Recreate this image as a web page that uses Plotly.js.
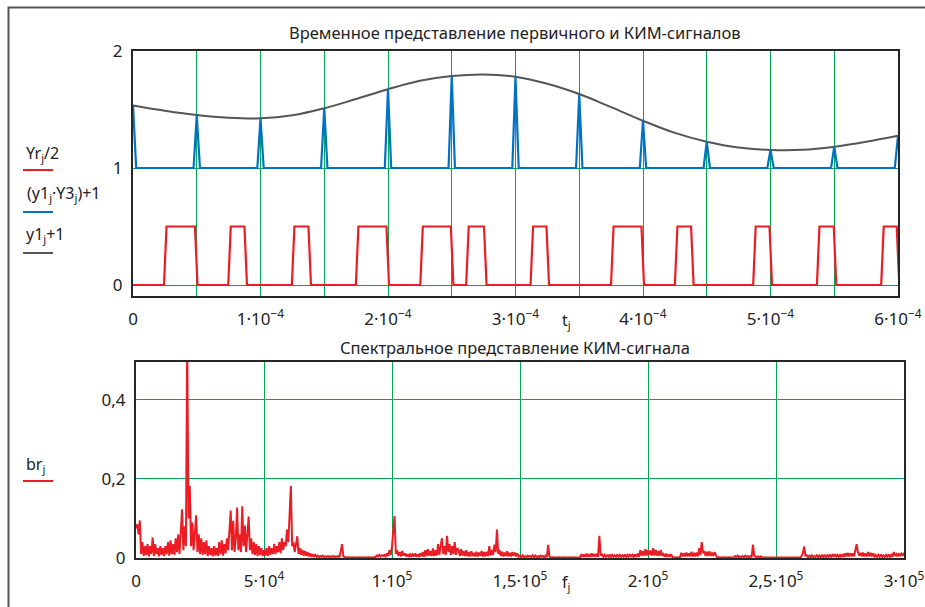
<!DOCTYPE html>
<html>
<head>
<meta charset="utf-8">
<script src="https://cdn.plot.ly/plotly-3.0.1.min.js"></script>
<style>
html,body{margin:0;padding:0;background:#fff;}
#chart{width:925px;height:607px;}
</style>
</head>
<body>
<div id="chart"></div>
<script>
// ---------- DATA ----------
// Top chart: time axis in microseconds
const grayT_us = [0,25,50,75,100,125,150,175,200,225,250,275,300,325,350,375,400,425,450,475,500,525,550,575,600];
const grayV    = [1.535,1.49,1.453,1.43,1.425,1.45,1.51,1.59,1.673,1.745,1.786,1.80,1.78,1.72,1.632,1.52,1.404,1.30,1.225,1.175,1.154,1.155,1.182,1.225,1.276];

const sampleT_us = [0,50,100,150,200,250,300,350,400,450,500,550,600];
const sampleV    = [1.535,1.453,1.425,1.51,1.673,1.786,1.78,1.632,1.404,1.225,1.154,1.182,1.276];

const pulseRise_us = [25.3,75.7,125.6,175.8,226.3,262.3,312.8,375.9,426.0,487.4,537.4,587.8];
const pulseFall_us = [49.6,88.4,138.6,199.8,250.3,276.3,325.3,399.8,438.7,500.2,550.6,600.0];
const pulseHigh = 0.5;
const baseBlue = 1;

const topXTicks = [0,50e-6,100e-6,150e-6,200e-6,250e-6,300e-6,350e-6,400e-6,450e-6,500e-6,550e-6,600e-6];
const topXLabels = ['0','','1·10<sup>−4</sup>','','2·10<sup>−4</sup>','','3·10<sup>−4</sup>','','4·10<sup>−4</sup>','','5·10<sup>−4</sup>','','6·10<sup>−4</sup>'];
const topYTicks = [0,1,2];
const topYLabels = ['0','1','2'];

// Bottom chart: spectrum, step 0.5 kHz from 0 to 300 kHz (one row = 10 kHz)
const specStepHz = 500;
const br = [
0.075,0.085,0.060,0.095,0.010,0.040,0.005,0.030,0.008,0.035,0.004,0.030,0.010,0.052,0.005,0.035,0.010,0.025,0.004,0.030,
0.008,0.025,0.005,0.030,0.010,0.040,0.006,0.045,0.010,0.035,0.008,0.050,0.015,0.060,0.010,0.055,0.123,0.020,0.080,0.030,
0.550,0.100,0.182,0.030,0.090,0.020,0.060,0.108,0.015,0.060,0.010,0.050,0.008,0.040,0.010,0.045,0.005,0.030,0.008,0.025,
0.004,0.030,0.006,0.025,0.005,0.040,0.010,0.045,0.006,0.035,0.012,0.050,0.020,0.060,0.120,0.020,0.094,0.015,0.050,0.128,
0.020,0.060,0.015,0.131,0.030,0.082,0.015,0.060,0.105,0.020,0.050,0.010,0.040,0.008,0.035,0.005,0.030,0.008,0.025,0.005,
0.020,0.006,0.025,0.005,0.030,0.008,0.025,0.010,0.035,0.010,0.030,0.015,0.040,0.012,0.050,0.020,0.040,0.030,0.072,0.040,
0.100,0.182,0.030,0.040,0.015,0.035,0.055,0.010,0.025,0.008,0.020,0.006,0.018,0.005,0.015,0.004,0.012,0.003,0.010,0.003,
0.008,0.003,0.006,0.002,0.005,0.003,0.006,0.002,0.004,0.003,0.005,0.002,0.004,0.003,0.005,0.002,0.004,0.003,0.005,0.002,
0.015,0.035,0.004,0.002,0.001,0.002,0.001,0.002,0.001,0.002,0.001,0.002,0.001,0.002,0.001,0.002,0.001,0.002,0.001,0.002,
0.001,0.002,0.001,0.002,0.001,0.002,0.001,0.002,0.006,0.004,0.008,0.004,0.007,0.005,0.008,0.004,0.012,0.005,0.020,0.008,
0.030,0.060,0.106,0.010,0.020,0.005,0.015,0.004,0.018,0.006,0.012,0.004,0.010,0.003,0.011,0.003,0.009,0.004,0.012,0.003,
0.010,0.003,0.012,0.004,0.015,0.003,0.020,0.005,0.022,0.006,0.018,0.005,0.024,0.005,0.020,0.006,0.035,0.008,0.030,0.050,
0.010,0.030,0.008,0.056,0.015,0.035,0.008,0.030,0.010,0.040,0.008,0.025,0.020,0.005,0.022,0.006,0.018,0.005,0.020,0.004,
0.015,0.004,0.017,0.005,0.013,0.004,0.016,0.004,0.014,0.005,0.018,0.004,0.015,0.004,0.016,0.005,0.030,0.006,0.020,0.008,
0.034,0.015,0.072,0.010,0.020,0.005,0.016,0.004,0.014,0.005,0.017,0.004,0.013,0.004,0.015,0.005,0.014,0.004,0.012,0.003,
0.006,0.002,0.007,0.002,0.005,0.002,0.006,0.003,0.005,0.002,0.007,0.002,0.006,0.002,0.005,0.002,0.006,0.003,0.005,0.002,
0.006,0.002,0.033,0.004,0.001,0.002,0.001,0.002,0.001,0.002,0.001,0.002,0.001,0.002,0.001,0.002,0.001,0.002,0.001,0.002,
0.001,0.002,0.001,0.002,0.001,0.002,0.001,0.002,0.010,0.003,0.009,0.003,0.011,0.003,0.008,0.003,0.012,0.004,0.010,0.003,
0.011,0.003,0.056,0.008,0.009,0.003,0.008,0.003,0.007,0.003,0.009,0.002,0.008,0.003,0.007,0.003,0.009,0.002,0.008,0.003,
0.007,0.003,0.009,0.003,0.008,0.002,0.010,0.003,0.008,0.003,0.009,0.003,0.011,0.003,0.020,0.006,0.018,0.006,0.022,0.006,
0.020,0.007,0.019,0.006,0.025,0.006,0.021,0.006,0.018,0.005,0.020,0.006,0.010,0.003,0.011,0.003,0.009,0.003,0.010,0.003,
0.001,0.002,0.001,0.002,0.001,0.002,0.013,0.004,0.012,0.004,0.014,0.004,0.012,0.004,0.016,0.004,0.013,0.004,0.014,0.004,
0.025,0.008,0.040,0.012,0.018,0.005,0.016,0.005,0.017,0.005,0.014,0.005,0.015,0.005,0.001,0.002,0.001,0.002,0.001,0.002,
0.001,0.002,0.001,0.002,0.001,0.002,0.001,0.002,0.005,0.002,0.006,0.002,0.004,0.002,0.005,0.002,0.006,0.002,0.005,0.002,
0.005,0.002,0.034,0.006,0.004,0.002,0.004,0.002,0.004,0.002,0.001,0.0015,0.001,0.0015,0.001,0.0015,0.001,0.0015,0.001,0.0015,
0.001,0.0015,0.001,0.0015,0.001,0.0015,0.001,0.0015,0.001,0.0015,0.001,0.0015,0.001,0.0015,0.001,0.0015,0.001,0.0015,0.001,0.0015,
0.005,0.012,0.029,0.006,0.007,0.002,0.006,0.002,0.007,0.002,0.005,0.002,0.008,0.002,0.006,0.002,0.007,0.002,0.008,0.002,
0.007,0.002,0.009,0.002,0.008,0.003,0.010,0.002,0.008,0.003,0.009,0.002,0.010,0.003,0.012,0.004,0.013,0.004,0.012,0.004,
0.012,0.004,0.025,0.035,0.015,0.006,0.013,0.004,0.014,0.004,0.012,0.004,0.015,0.004,0.013,0.004,0.012,0.004,0.008,0.003,
0.008,0.003,0.009,0.003,0.007,0.003,0.008,0.003,0.009,0.003,0.008,0.003,0.015,0.005,0.010,0.004,0.012,0.005,0.011,0.006,
0.013
];
const botXTicks = [0,50000,100000,150000,200000,250000,300000];
const botXLabels = ['0','5·10<sup>4</sup>','1·10<sup>5</sup>','1,5·10<sup>5</sup>','2·10<sup>5</sup>','2,5·10<sup>5</sup>','3·10<sup>5</sup>'];
const botYTicks = [0,0.2,0.4];
const botYLabels = ['0','0,2','0,4'];

// ---------- BUILD TRACES ----------
const US = 1e-6;
const edge = 1.0;      // half width of pulse edges, us
const spikeHalf = 2.5; // half width of sample spikes, us

const redX = [0], redY = [0];
for (let i = 0; i < pulseRise_us.length; i++) {
  redX.push((pulseRise_us[i]-edge)*US, (pulseRise_us[i]+edge)*US, (pulseFall_us[i]-edge)*US, (pulseFall_us[i]+edge)*US);
  redY.push(0, pulseHigh, pulseHigh, 0);
}

const blueX = [], blueY = [];
for (let i = 0; i < sampleT_us.length; i++) {
  const t = sampleT_us[i];
  if (t > 0) { blueX.push((t-spikeHalf)*US); blueY.push(baseBlue); }
  blueX.push(t*US); blueY.push(sampleV[i]);
  blueX.push((t+spikeHalf)*US); blueY.push(baseBlue);
}

const grayX = grayT_us.map(t => t*US);
const specX = br.map((v,i) => i*specStepHz);

const RED = '#ec1c24', BLUE = '#0072c6', GRAY = '#555555', GREEN = '#00a651';
const FONT = 'Noto Sans, Open Sans, DejaVu Sans, sans-serif';

const traces = [
  {x: grayX, y: grayV, xaxis:'x', yaxis:'y', mode:'lines', line:{color:GRAY, width:2, shape:'spline', smoothing:1}, hoverinfo:'skip'},
  {x: blueX, y: blueY, xaxis:'x', yaxis:'y', mode:'lines', line:{color:BLUE, width:2.2}, hoverinfo:'skip'},
  {x: redX, y: redY, xaxis:'x', yaxis:'y', mode:'lines', line:{color:RED, width:2.2}, hoverinfo:'skip'},
  {x: specX, y: br, xaxis:'x2', yaxis:'y2', mode:'lines', line:{color:RED, width:2}, hoverinfo:'skip'}
];

// ---------- LAYOUT ----------
const W = 925, H = 607;
const px = x => x / W;
const py = y => 1 - y / H;

const axisCommon = {
  showgrid: true, gridcolor: GREEN, gridwidth: 1,
  showline: true, mirror: true, linecolor: '#262626', linewidth: 2,
  zeroline: false, ticks: '', tickmode: 'array', fixedrange: true,
  tickfont: {family: FONT, size: 17, color: '#222'}
};

const annFont = {family: FONT, size: 16, color: '#222'};
const titleFont = {family: FONT, size: 16.5, color: '#222'};
const annotations = [
  {text:'Временное представление первичного и КИМ-сигналов', x:px(515), y:py(33), xanchor:'center', yanchor:'middle', font:titleFont},
  {text:'Спектральное представление КИМ-сигнала', x:px(515), y:py(347), xanchor:'center', yanchor:'middle', font:titleFont},
  {text:'t<sub>j</sub>', x:px(566), y:py(320), xanchor:'center', yanchor:'middle', font:annFont},
  {text:'f<sub>j</sub>', x:px(566), y:py(582), xanchor:'center', yanchor:'middle', font:annFont},
  {text:'Yr<sub>j</sub>/2', x:px(24), y:py(153), xanchor:'left', yanchor:'middle', font:annFont},
  {text:'(y1<sub>j</sub>·Y3<sub>j</sub>)+1', x:px(25), y:py(193), xanchor:'left', yanchor:'middle', font:annFont},
  {text:'y1<sub>j</sub>+1', x:px(24), y:py(234), xanchor:'left', yanchor:'middle', font:annFont},
  {text:'br<sub>j</sub>', x:px(24), y:py(464), xanchor:'left', yanchor:'middle', font:annFont}
].map(a => Object.assign({xref:'paper', yref:'paper', showarrow:false}, a));

const legLine = (y, color) => ({type:'line', xref:'paper', yref:'paper', x0:px(23), x1:px(53), y0:py(y), y1:py(y), line:{color:color, width:2}});
const shapes = [
  legLine(170, RED), legLine(212, BLUE), legLine(253, GRAY), legLine(481, RED),
  {type:'path', xref:'paper', yref:'paper', path:`M ${px(8.5)} ${py(607)} L ${px(8.5)} ${py(7.5)} L ${px(925)} ${py(7.5)}`, line:{color:'#555', width:2}}
];

const layout = {
  width: W, height: H,
  margin: {l:0, r:0, t:0, b:0},
  paper_bgcolor: '#fff', plot_bgcolor: '#fff',
  showlegend: false,
  font: {family: FONT, color: '#222'},
  xaxis: Object.assign({}, axisCommon, {domain:[px(133), px(898)], range:[0, 600e-6], tickvals: topXTicks, ticktext: topXLabels, anchor:'y', ticklabelstandoff: 7}),
  yaxis: Object.assign({}, axisCommon, {domain:[py(296), py(51)], range:[-0.094, 2], tickvals: topYTicks, ticktext: topYLabels, anchor:'x', ticklabelstandoff: 5}),
  xaxis2: Object.assign({}, axisCommon, {domain:[px(136), px(904)], range:[0, 300000], tickvals: botXTicks, ticktext: botXLabels, anchor:'y2', ticklabelstandoff: 7}),
  yaxis2: Object.assign({}, axisCommon, {domain:[py(558), py(362)], range:[0, 0.496], tickvals: botYTicks, ticktext: botYLabels, anchor:'x2', ticklabelstandoff: 5}),
  annotations: annotations,
  shapes: shapes
};

Plotly.newPlot('chart', traces, layout, {displayModeBar:false, staticPlot:true});
</script>
</body>
</html>
